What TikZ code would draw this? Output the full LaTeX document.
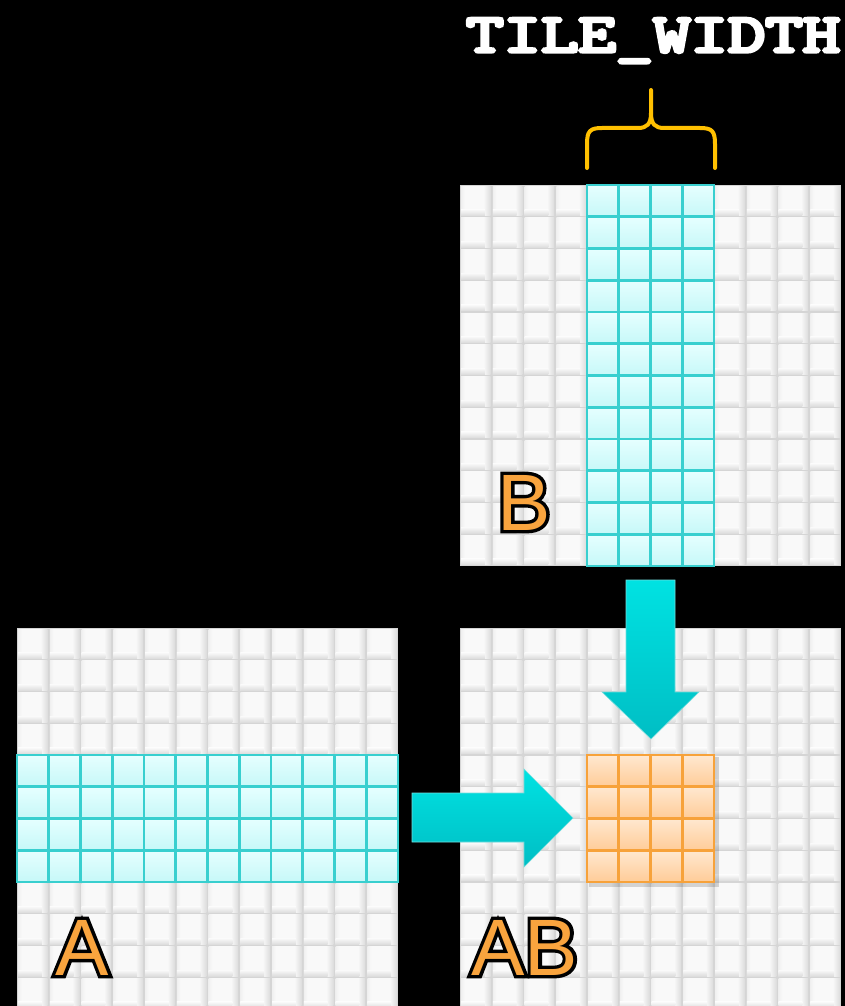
\documentclass[tikz,border=0pt]{standalone}
\usepackage{fontspec}
\newfontfamily\ttlfont{Latin Modern Mono}[FakeBold=6]
\newfontfamily\labfont{Liberation Sans}
\newfontfamily\labfontO{Liberation Sans}[FakeBold=8.5]
\definecolor{gridline}{HTML}{D5D5D5}
\definecolor{cellA}{HTML}{F9F9F9}
\definecolor{cellB}{HTML}{F0F0F0}
\definecolor{cellC}{HTML}{DCDCDC}
\definecolor{cyanborder}{HTML}{38CFCF}
\definecolor{cyanT}{HTML}{E6FFFF}
\definecolor{cyanB}{HTML}{C6F8F8}
\definecolor{orborder}{HTML}{F7A23A}
\definecolor{orT}{HTML}{FFE8D0}
\definecolor{orB}{HTML}{FFCC98}
\definecolor{arrT}{HTML}{00E2E2}
\definecolor{arrB}{HTML}{00BEC4}
\definecolor{bracecol}{HTML}{FFC000}
\definecolor{labor}{HTML}{F9A43E}
\pgfdeclarehorizontalshading{cellh}{100bp}{%
  color(0bp)=(cellB); color(25bp)=(cellB); color(31bp)=(cellA);
  color(63bp)=(cellA); color(75bp)=(cellC); color(100bp)=(cellC)}
\pgfdeclareverticalshading{cellv}{100bp}{%
  color(0bp)=(cellC); color(25bp)=(cellC); color(75bp)=(cellA); color(100bp)=(cellA)}
\def\cs{31.75}
\tikzset{
  gridbg/.style={fill=gridline},
  plaincell/.style={shading=cellh},
  cellfoot/.style={shading=cellv},
  cyancell/.style={draw=cyanborder, line width=2.8pt, top color=cyanT, bottom color=cyanB},
  orcell/.style={draw=orborder, line width=2.8pt, top color=orT, bottom color=orB},
  blockarrow/.style={draw=cyanborder!70!white, line width=0.6pt, top color=arrT, bottom color=arrB},
  lbl/.style={inner sep=0pt, anchor=base west},
  ttl/.style={inner sep=0pt, anchor=base west, text=white},
  brace/.style={draw=bracecol, line width=4pt, line cap=round, line join=round}
}
\newcommand\drawgrid[2]{%
  \fill[gridbg] (#1,#2) rectangle ++({12*\cs},{12*\cs});
  \foreach \i in {0,...,11}{\foreach \j in {0,...,11}{
    \path[plaincell] ({#1+\i*\cs+1.1},{#2+\j*\cs+1.1}) rectangle ++({\cs-2.2},{\cs-2.2});
    \path[cellfoot] ({#1+\i*\cs+1.1},{#2+\j*\cs+\cs-7.1}) rectangle ++({\cs-8},6);
  }}%
}
\newcommand\outlined[1]{%
  \fontsize{80}{80}\selectfont
  \rlap{\labfontO\color{black}#1}{\labfont\color{labor}#1}}
\begin{document}
\begin{tikzpicture}[x=1pt,y=-1pt]
\clip (0,0) rectangle (845,1006);
\fill[black] (0,0) rectangle (845,1006);

% matrix B
\drawgrid{460}{185}
\foreach \i in {4,...,7}{\foreach \j in {0,...,11}{
  \path[cyancell] ({460+\i*\cs},{185+\j*\cs}) rectangle ++(\cs,\cs);}}

% matrix A
\drawgrid{17}{628}
\foreach \i in {0,...,11}{\foreach \j in {4,...,7}{
  \path[cyancell] ({17+\i*\cs},{628+\j*\cs}) rectangle ++(\cs,\cs);}}

% matrix AB
\drawgrid{460}{628}
\fill[black, opacity=0.15] (589,757) rectangle ++({4*\cs+3},{4*\cs+3});
\foreach \i in {4,...,7}{\foreach \j in {4,...,7}{
  \path[orcell] ({460+\i*\cs},{628+\j*\cs}) rectangle ++(\cs,\cs);}}

% title and brace
\node[ttl] (title) at (466,52) {\scalebox{1.32}[1]{\ttlfont\fontsize{55}{55}\selectfont TILE\_WIDTH}};
\coordinate (braceL) at (587,168);
\coordinate (braceR) at (715,168);
\coordinate (braceTip) at (651,90);
\draw[brace] (braceL) -- (587,144) .. controls (587,131) and (590,128) .. (602,128)
  -- (638,128) .. controls (647,128) and (651,124) .. (651,113) -- (braceTip);
\draw[brace] (braceR) -- (715,144) .. controls (715,131) and (712,128) .. (700,128)
  -- (664,128) .. controls (655,128) and (651,124) .. (651,113);

% block arrows
\path[blockarrow] (412,793) -- (524,793) -- (524,769) -- (573,818) -- (524,867) -- (524,842) -- (412,842) -- cycle;
\path[blockarrow] (626,580) -- (675,580) -- (675,692) -- (699,692) -- (651,739) -- (602,692) -- (626,692) -- cycle;

% labels
\node[lbl] (labB) at (497,530) {\outlined{B}};
\node[lbl] (labA) at (55,975) {\outlined{A}};
\node[lbl] (labAB) at (471,975) {\outlined{AB}};
\end{tikzpicture}
\end{document}
